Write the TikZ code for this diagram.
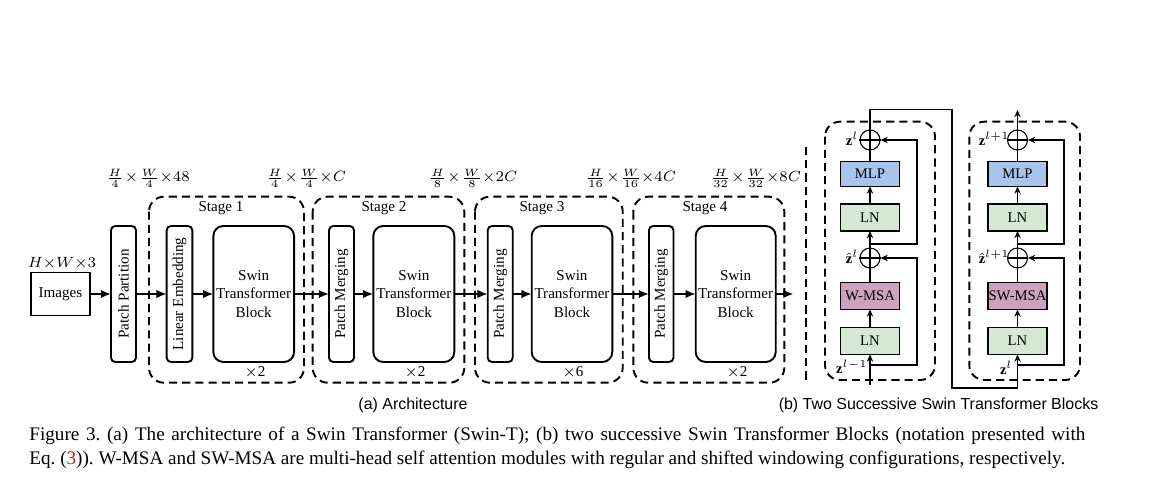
\documentclass[tikz,border=0pt]{standalone}
\usepackage{fontspec}
\setmainfont{Liberation Serif}
\newfontfamily\arialfont{Liberation Sans}
\usepackage{graphicx}
\usetikzlibrary{arrows.meta}
\newdimen\pxu
\pxu=0.47pt
\definecolor{mlpblue}{HTML}{A9C4EB}
\definecolor{lngreen}{HTML}{D5E8D4}
\definecolor{msapurple}{HTML}{CDA2BE}
\definecolor{linkred}{rgb}{0.8,0.1,0.1}
\newcommand{\dimlab}[3]{$\frac{H}{#1}\mkern1mu{\times}\mkern1mu\frac{W}{#2}{\times}#3$}
\frenchspacing
\tikzset{
  fig/.style={font=\fontsize{7.1}{8.5}\selectfont},
  dimtext/.style={font=\fontsize{6.7}{8}\selectfont, inner sep=0pt},
  bx/.style 2 args={minimum width={#1*\pxu}, minimum height={#2*\pxu}, inner sep=0pt, outer sep=0pt},
  solidbox/.style={draw, line width=0.9pt, fig, align=center},
  stagebox/.style={draw, line width=0.9pt, dash pattern=on 3.8pt off 2.4pt, rounded corners=7pt},
  aarrow/.style={line width=0.9pt, -{Latex[length=4.8pt,width=4pt]}},
  bline/.style={line width=0.5pt},
  barrow/.style={line width=0.5pt, -{Stealth[length=3.4pt,width=3pt]}},
  opnode/.style={circle, draw, line width=0.5pt, minimum size={20*\pxu}, inner sep=0pt},
  bbox/.style={draw, line width=0.5pt, font=\fontsize{6.9}{8}\selectfont},
  zlab/.style={font=\fontsize{6.8}{8}\selectfont, inner sep=0pt, anchor=east},
  subcap/.style={font=\arialfont\fontsize{7.5}{9}\selectfont, anchor=base, inner sep=0pt},
  captext/.style={font=\fontsize{9}{11}\selectfont, anchor=base west, inner sep=0pt},
}
\begin{document}
\begin{tikzpicture}[x=0.47pt,y=-0.47pt]
\useasboundingbox[fill=white] (0,0) rectangle (1149,488);

% ---------- (a) Architecture ----------
\draw[stagebox] (149,196.7) rectangle (304,382.7);
\draw[stagebox] (312.7,196.7) rectangle (464.3,382.7);
\draw[stagebox] (475,196.7) rectangle (622.7,382.7);
\draw[stagebox] (633.3,196.7) rectangle (784.3,382.7);

\node[fig] (st1) at (221,208.5) {Stage 1};
\node[fig] (st2) at (384,208.5) {Stage 2};
\node[fig] (st3) at (542,208.5) {Stage 3};
\node[fig] (st4) at (705,208.5) {Stage 4};

\node[fig] (rep1) at (255,372) {$\times$2};
\node[fig] (rep2) at (415,372) {$\times$2};
\node[fig] (rep3) at (573,372) {$\times$6};
\node[fig] (rep4) at (737,372) {$\times$2};

\node[solidbox, bx={59}{43}] (img) at (60.5,294) {Images};
\node[fig, font=\fontsize{7}{9}\selectfont] (hw3) at (62,263) {$H{\times}W{\times}3$};

\node[solidbox, bx={25}{136}, rounded corners=2pt] (pp) at (123.5,294) {\rotatebox{90}{Patch Partition}};
\node[solidbox, bx={25.6}{136}, rounded corners=2pt] (le) at (179.5,294) {\rotatebox{90}{Linear Embedding}};
\node[solidbox, bx={80.7}{136}, rounded corners=4.7pt] (stb1) at (253.7,294) {Swin\\Transformer\\Block};
\node[solidbox, bx={25}{136}, rounded corners=2pt] (pm2) at (341.5,294) {\rotatebox{90}{Patch Merging}};
\node[solidbox, bx={81}{136}, rounded corners=4.7pt] (stb2) at (413.8,294) {Swin\\Transformer\\Block};
\node[solidbox, bx={25}{136}, rounded corners=2pt] (pm3) at (500.2,294) {\rotatebox{90}{Patch Merging}};
\node[solidbox, bx={80.6}{136}, rounded corners=4.7pt] (stb3) at (572,294) {Swin\\Transformer\\Block};
\node[solidbox, bx={24.5}{136}, rounded corners=2pt] (pm4) at (661.2,294) {\rotatebox{90}{Patch Merging}};
\node[solidbox, bx={80}{136}, rounded corners=4.7pt] (stb4) at (735.7,294) {Swin\\Transformer\\Block};
\coordinate (aout) at (793.5,294);

\draw[aarrow] (img) -- (pp);
\draw[aarrow] (pp) -- (le);
\draw[aarrow] (le) -- (stb1);
\draw[aarrow] (stb1) -- (pm2);
\draw[aarrow] (pm2) -- (stb2);
\draw[aarrow] (stb2) -- (pm3);
\draw[aarrow] (pm3) -- (stb3);
\draw[aarrow] (stb3) -- (pm4);
\draw[aarrow] (pm4) -- (stb4);
\draw[aarrow] (stb4) -- (aout);

\node[dimtext] (dim0) at (148,178) {\dimlab{4}{4}{48}};
\node[dimtext] (dim1) at (306,178) {\dimlab{4}{4}{C}};
\node[dimtext] (dim2) at (473,178) {\dimlab{8}{8}{2C}};
\node[dimtext] (dim3) at (631,178) {\dimlab{16}{16}{4C}};
\node[dimtext] (dim4) at (756,178) {\dimlab{32}{32}{8C}};

% separator
\draw[line width=1.3pt, dash pattern=on 3.9pt off 2.3pt] (806,147) -- (806,381);

% ---------- (b) Two successive blocks ----------
\draw[stagebox] (825,121.7) rectangle (935,380);
\draw[stagebox] (969.3,121.7) rectangle (1080,380);

% block 1
\node[bbox, fill=lngreen, bx={59}{27}] (lnA1) at (870,341) {LN};
\node[bbox, fill=msapurple, bx={59}{27}] (msa1) at (870,296) {W-MSA};
\node[opnode] (add1a) at (870,258) {};
\node[bbox, fill=lngreen, bx={59}{27}] (lnB1) at (870,217.5) {LN};
\node[bbox, fill=mlpblue, bx={59}{25}] (mlp1) at (870,174) {MLP};
\node[opnode] (add1b) at (870,140) {};
\draw[bline] (add1a.west) -- (add1a.east) (add1a.north) -- (add1a.south);
\draw[bline] (add1b.west) -- (add1b.east) (add1b.north) -- (add1b.south);

\coordinate (in1) at (870,385);
\coordinate (br1a) at (870,365);
\coordinate (sk1a) at (917,365);
\coordinate (sk1at) at (917,258);
\coordinate (br1b) at (870,244);
\coordinate (sk1b) at (917,244);
\coordinate (sk1bt) at (917,140);
\coordinate (o1a) at (870,109.5);
\coordinate (o1b) at (952,109.5);
\coordinate (o1c) at (952,388);
\coordinate (o1d) at (1017.5,388);

\draw[barrow] (in1) -- (lnA1);
\draw[barrow] (lnA1) -- (msa1);
\draw[bline] (msa1) -- (add1a);
\draw[barrow] (add1a) -- (lnB1);
\draw[barrow] (lnB1) -- (mlp1);
\draw[bline] (mlp1) -- (add1b);
\draw[barrow] (br1a) -- (sk1a) -- (sk1at) -- (add1a.east);
\draw[barrow] (br1b) -- (sk1b) -- (sk1bt) -- (add1b.east);

\node[zlab] (z1) at (859,139) {$\mathbf{z}^{l}$};
\node[zlab] (zh1) at (859,257) {$\hat{\mathbf{z}}^{l}$};
\node[zlab] (zin1) at (868,367) {$\mathbf{z}^{l-1}$};

% block 2
\node[bbox, fill=lngreen, bx={59}{27}] (lnA2) at (1017.5,341) {LN};
\node[bbox, fill=msapurple, bx={59}{27}] (msa2) at (1017.5,296) {SW-MSA};
\node[opnode] (add2a) at (1017.5,258) {};
\node[bbox, fill=lngreen, bx={59}{27}] (lnB2) at (1017.5,217.5) {LN};
\node[bbox, fill=mlpblue, bx={59}{25}] (mlp2) at (1017.5,174) {MLP};
\node[opnode] (add2b) at (1017.5,140) {};
\draw[bline] (add2a.west) -- (add2a.east) (add2a.north) -- (add2a.south);
\draw[bline] (add2b.west) -- (add2b.east) (add2b.north) -- (add2b.south);

\coordinate (br2a) at (1017.5,365);
\coordinate (sk2a) at (1064,365);
\coordinate (sk2at) at (1064,258);
\coordinate (br2b) at (1017.5,244);
\coordinate (sk2b) at (1064,244);
\coordinate (sk2bt) at (1064,140);
\coordinate (out2) at (1017.5,110);

\draw[barrow] (add1b) -- (o1a) -- (o1b) -- (o1c) -- (o1d) -- (lnA2);
\draw[barrow] (lnA2) -- (msa2);
\draw[bline] (msa2) -- (add2a);
\draw[barrow] (add2a) -- (lnB2);
\draw[barrow] (lnB2) -- (mlp2);
\draw[bline] (mlp2) -- (add2b);
\draw[barrow] (add2b) -- (out2);
\draw[barrow] (br2a) -- (sk2a) -- (sk2at) -- (add2a.east);
\draw[barrow] (br2b) -- (sk2b) -- (sk2bt) -- (add2b.east);

\node[zlab] (z2) at (1010,139) {$\mathbf{z}^{l+1}$};
\node[zlab] (zh2) at (1010,257) {$\hat{\mathbf{z}}^{l+1}$};
\node[zlab] (zin2) at (1013,368) {$\mathbf{z}^{l}$};

% ---------- captions ----------
\node[subcap] (capa) at (413,410) {(a) Architecture};
\node[subcap] (capb) at (938.5,410) {(b) Two Successive Swin Transformer Blocks};
\node[captext] (cap1) at (29,440) {\hbox to 496.3pt{Figure 3. (a) The architecture of a Swin Transformer (Swin-T); (b) two successive Swin Transformer Blocks (notation presented with}};
\node[captext] (cap2) at (29,464) {Eq. (\textcolor{linkred}{3})). W-MSA and SW-MSA are multi-head self attention modules with regular and shifted windowing configurations, respectively.};
\end{tikzpicture}
\end{document}
